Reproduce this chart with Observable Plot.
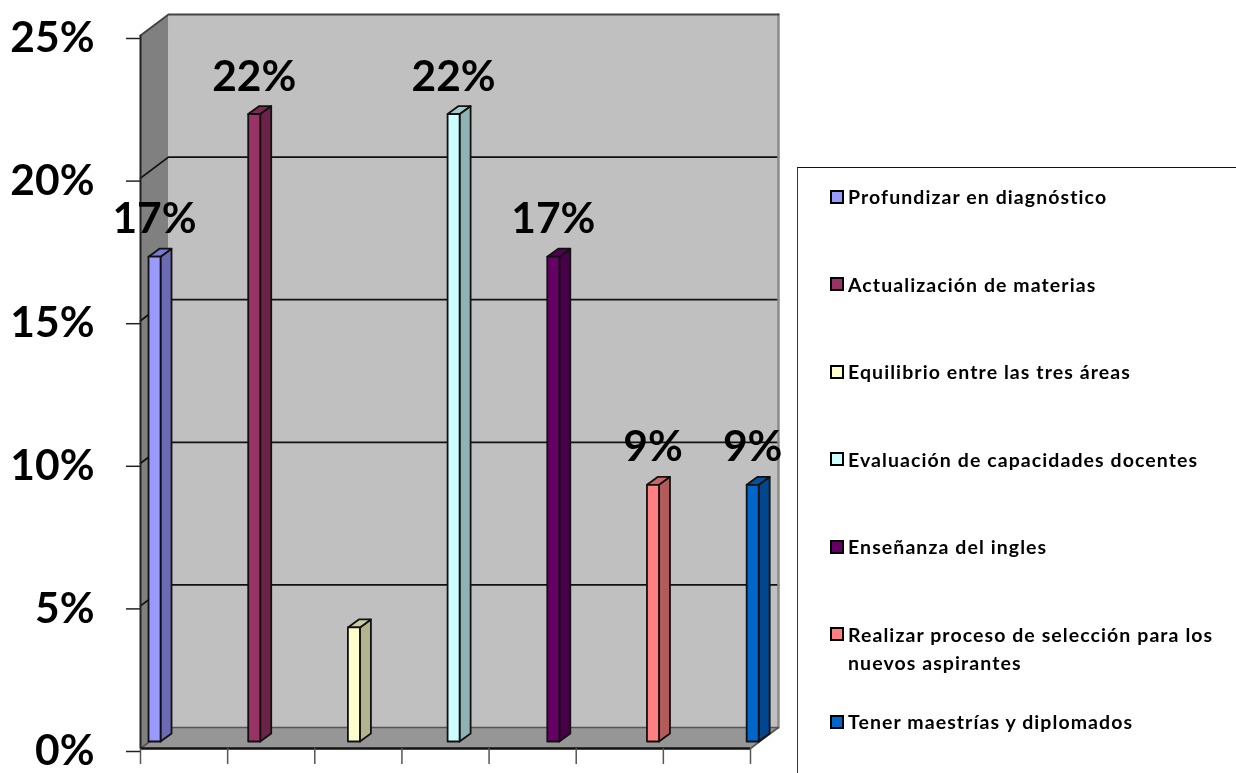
<!DOCTYPE html>
<html lang="es">
<head>
<meta charset="utf-8">
<script src="https://cdn.jsdelivr.net/npm/d3@7"></script>
<script src="https://cdn.jsdelivr.net/npm/@observablehq/plot@0.6"></script>
<style>
  html, body { margin: 0; padding: 0; background: #fff; overflow: hidden; }
  body { width: 1236px; height: 773px; position: relative; font-family: Lato, "Open Sans", sans-serif; }
  #chart { filter: blur(0.5px); }
  #chart svg { display: block; overflow: visible; font-family: Lato, "Open Sans", sans-serif; background: transparent; }
  #legend { position: absolute; left: 797px; top: 167px; right: 0; bottom: 0; box-sizing: border-box;
            border-top: 1.5px solid #111; border-left: 1.5px solid #333; padding-top: 15px; filter: blur(0.5px); }
  .item { height: 87.5px; position: relative; font-weight: 700; font-size: 19.5px; line-height: 28px; color: #000; letter-spacing: 1.08px; white-space: nowrap; }
  .item i { position: absolute; left: 32px; top: 6.5px; width: 10px; height: 10px; border: 2px solid #000; }
  .item span { position: absolute; left: 50px; white-space: normal; width: 385px; }
</style>
</head>
<body>
<div id="chart"></div>
<div id="legend"></div>
<script>
// Chart values
const categories = [
  "Profundizar en diagnóstico",
  "Actualización de materias",
  "Equilibrio entre las tres áreas",
  "Evaluación de capacidades docentes",
  "Enseñanza del ingles",
  "Realizar proceso de selección para los nuevos aspirantes",
  "Tener maestrías y diplomados"
];
const values = [17, 22, 4, 22, 17, 9, 9];
const showLabel = [true, true, false, true, true, true, true];
const frontColors = ["#9999ff", "#993366", "#ffffcc", "#ccffff", "#660066", "#ff8080", "#0066cc"];
const yTicks = [0, 5, 10, 15, 20, 25];
const xTicks = [0, 1, 2, 3, 4, 5, 6, 7];

// 3D projection constants, in data units of the x (slot) and y (percent) scales
const wallDx = 0.321, wallDy = 0.736;
const barStart = 0.092, barStep = 1.144, barW = 0.138;
const sideDx = 0.126, sideDy = 0.28, barBase = 0.245;

const shade = (c, k) => { const r = d3.rgb(c); return d3.rgb(r.r * k, r.g * k, r.b * k).formatHex(); };
const poly = (id, fill, stroke, pts) => pts.map(([x, y]) => ({id, fill, stroke, x, y}));

const top25 = 25;
const walls = [
  ...poly("side", "#808080", "none", [[0, 0], [wallDx, wallDy], [wallDx, top25 + wallDy], [0, top25]]),
  ...poly("back", "#c0c0c0", "none", [[wallDx, wallDy], [7 + wallDx, wallDy], [7 + wallDx, top25 + wallDy], [wallDx, top25 + wallDy]]),
  ...poly("floor", "#969696", "none", [[0, 0], [7, 0], [7 + wallDx, wallDy], [wallDx, wallDy]])
];

const grid = yTicks.slice(1, 5).flatMap(v => [
  {id: v, x: 0, y: v},
  {id: v, x: wallDx, y: v + wallDy},
  {id: v, x: 7 + wallDx, y: v + wallDy}
]);
const edges = [
  {id: "t", x: 0, y: top25}, {id: "t", x: wallDx, y: top25 + wallDy}, {id: "t", x: 7 + wallDx, y: top25 + wallDy},
  {id: "f", x: 0, y: 0}, {id: "f", x: wallDx, y: wallDy}, {id: "f", x: 7 + wallDx, y: wallDy}, {id: "f", x: 7, y: 0}
];
const rightEdge = [{x: 7 + wallDx, y: wallDy}, {x: 7 + wallDx, y: top25 + wallDy}];

const barFaces = values.flatMap((v, i) => {
  const x0 = barStart + i * barStep, x1 = x0 + barW, y0 = barBase, y1 = barBase + v, c = frontColors[i];
  return [
    ...poly(`s${i}`, shade(c, 0.7), "#111", [[x1, y0], [x1 + sideDx, y0 + sideDy], [x1 + sideDx, y1 + sideDy], [x1, y1]]),
    ...poly(`t${i}`, shade(c, 0.8), "#111", [[x0, y1], [x1, y1], [x1 + sideDx, y1 + sideDy], [x0 + sideDx, y1 + sideDy]]),
    ...poly(`f${i}`, c, "#111", [[x0, y0], [x1, y0], [x1, y1], [x0, y1]])
  ];
});

const labels = values.map((v, i) => ({x: barStart + i * barStep + barW / 2, y: barBase + v, text: `${v}%`, show: showLabel[i]}))
  .filter(d => d.show);

const plot = Plot.plot({
  width: 1236,
  height: 773,
  marginLeft: 140,
  marginRight: 486,
  marginTop: 35,
  marginBottom: 25,
  x: {domain: [0, 7], axis: null},
  y: {domain: [0, 25], axis: null},
  color: {type: "identity"},
  marks: [
    Plot.line(walls, {x: "x", y: "y", z: "id", fill: "fill", stroke: "none", curve: "linear-closed"}),
    Plot.line(grid, {x: "x", y: "y", z: "id", stroke: "#111", strokeWidth: 1.8, curve: "linear"}),
    Plot.line(rightEdge, {x: "x", y: "y", stroke: "#8a8a8a", strokeWidth: 2.5}),
    Plot.line(edges.filter(d => d.id === "t"), {x: "x", y: "y", stroke: "#444", strokeWidth: 2}),
    Plot.line(edges.filter(d => d.id === "f"), {x: "x", y: "y", stroke: "#555", strokeWidth: 1.6}),
    Plot.ruleX([0], {y1: 0, y2: 25, stroke: "#222", strokeWidth: 2}),
    Plot.ruleY([0], {x1: 0, x2: 7, stroke: "#111", strokeWidth: 2.5}),
    Plot.ruleX(xTicks, {y1: 0, y2: -0.56, stroke: "#555", strokeWidth: 1.5}),
    Plot.axisY({ticks: yTicks, tickSize: 14, tickPadding: 32, tickFormat: d => `${d}%`, label: null,
      stroke: "#222", strokeWidth: 1.5, fontSize: 42.5, fontWeight: 700, fill: "#000", dy: 3, tickRotate: 0}),
    Plot.line(barFaces, {x: "x", y: "y", z: "id", fill: "fill", stroke: "#111", strokeWidth: 1.8, curve: "linear-closed"}),
    Plot.text(labels, {x: "x", y: "y", text: "text", dy: -37, fontSize: 42.5, fontWeight: 700, fill: "#000", lineAnchor: "middle"})
  ]
});
document.getElementById("chart").appendChild(plot);

const legend = d3.select("#legend");
categories.forEach((c, i) => {
  const item = legend.append("div").attr("class", "item");
  item.append("i").style("background", frontColors[i]);
  item.append("span").text(c);
});
</script>
</body>
</html>
